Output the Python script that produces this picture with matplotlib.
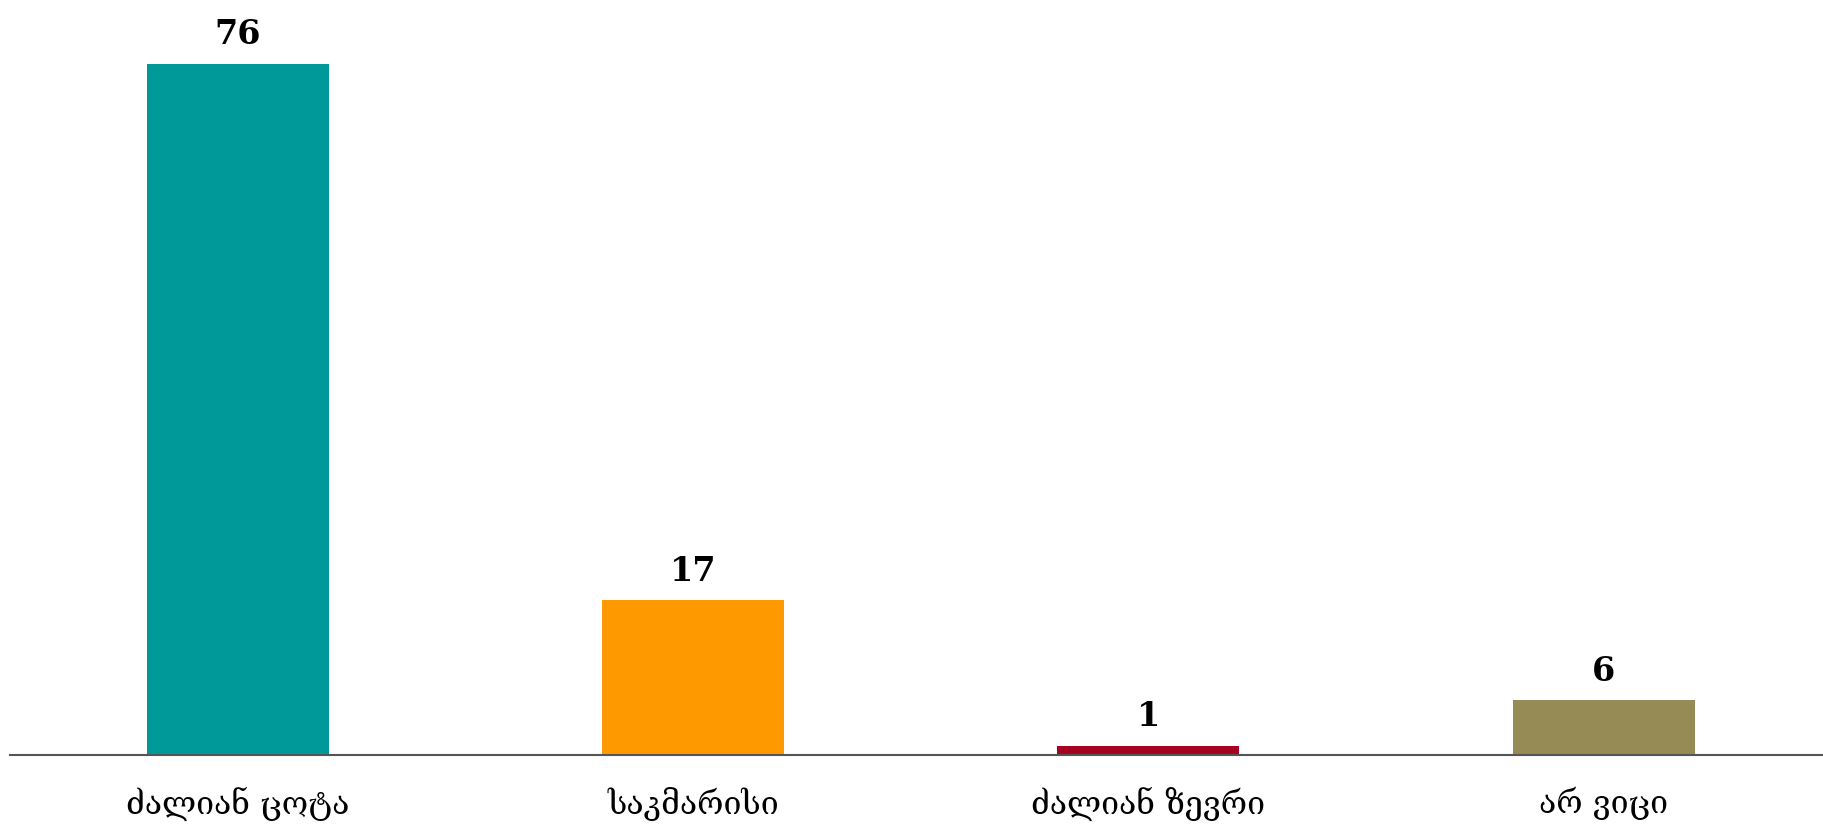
import matplotlib.pyplot as plt

# Chart data
categories = ['ძალიან ცოტა', 'საკმარისი', 'ძალიან ზევრი', 'არ ვიცი']
values = [76, 17, 1, 6]
colors = ['#009999', '#FF9900', '#A50021', '#968B54']

fig = plt.figure(figsize=(18.24, 8.24), dpi=100)
ax = fig.add_axes([0.0055, 0.0837, 0.9985, 0.9163])

x = range(len(categories))
bars = ax.bar(x, values, width=0.4, color=colors)

for xi, v in zip(x, values):
    ax.text(xi, v + 1.4, str(v), ha='center', va='bottom',
            fontsize=24, fontweight='bold', family=['DejaVu Serif'])

ax.set_xlim(-0.5, len(categories) - 0.5)
ax.set_ylim(0, 83)
ax.set_xticks(list(x))
ax.set_xticklabels(categories, family=['DejaVu Serif', 'DejaVu Sans'], fontsize=23)
ax.tick_params(axis='x', length=0, pad=23)
ax.set_yticks([])
for s in ['top', 'right', 'left']:
    ax.spines[s].set_visible(False)
ax.spines['bottom'].set_color('#555555')
ax.spines['bottom'].set_linewidth(1.5)

fig.savefig('out.png', dpi=100)
